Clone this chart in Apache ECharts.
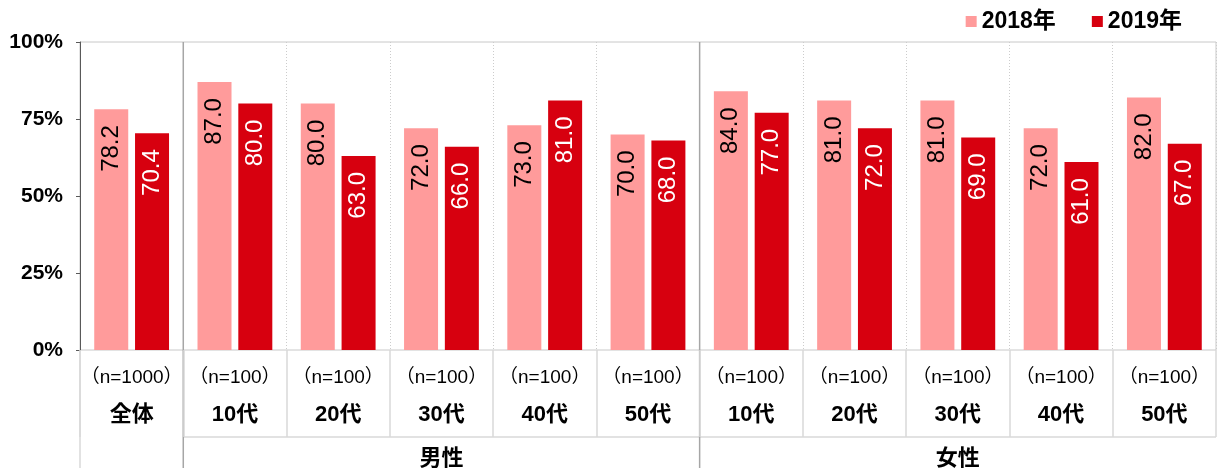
<!DOCTYPE html>
<html lang="ja">
<head>
    <meta charset="utf-8"/>
    <title></title>
    <script src="https://cdn.jsdelivr.net/npm/echarts@6/dist/echarts.min.js"></script>
</head>
<body style="margin:0;background:#fff">
<div id="echarts" style="width:1219px;height:468px;"></div>
<script type="text/javascript">
    // データ
    var categories = ['全体', '10代', '20代', '30代', '40代', '50代', '10代', '20代', '30代', '40代', '50代'];
    var sampleSizes = ['（n=1000）', '（n=100）', '（n=100）', '（n=100）', '（n=100）', '（n=100）',
        '（n=100）', '（n=100）', '（n=100）', '（n=100）', '（n=100）'];
    var values2018 = [78.2, 87.0, 80.0, 72.0, 73.0, 70.0, 84.0, 81.0, 81.0, 72.0, 82.0];
    var values2019 = [70.4, 80.0, 63.0, 66.0, 81.0, 68.0, 77.0, 72.0, 69.0, 61.0, 67.0];
    var groupNames = ['男性', '女性'];
    var groupFrom = [1, 6];
    var groupTo = [6, 11];

    var font = '"Liberation Sans", "Noto Sans CJK JP", sans-serif';
    var myChart = echarts.init(document.getElementById('echarts'));

    var barLabel = function (color) {
        return {
            show: true,
            position: 'insideTop',
            rotate: 90,
            align: 'right',
            verticalAlign: 'middle',
            distance: 16,
            color: color,
            fontSize: 24,
            fontFamily: font,
            formatter: function (p) { return p.value.toFixed(1); }
        };
    };

    var option = {
        animation: false,
        textStyle: {fontFamily: font},
        //凡例
        legend: {
            right: 32,
            top: 5,
            itemWidth: 11,
            itemHeight: 11,
            itemGap: 36,
            icon: 'rect',
            textStyle: {fontSize: 23, fontWeight: 'bold', color: '#000', fontFamily: font},
            data: ['2018年', '2019年']
        },
        grid: {
            left: 80, right: 3, top: 42, bottom: 118,
            show: true, borderColor: '#c8c8c8', borderWidth: 1
        },
        xAxis: {
            type: 'category',
            data: categories,
            axisLine: {show: false},
            axisTick: {show: true, interval: 0, length: 87, lineStyle: {color: '#d9d9d9', width: 1.5}},
            splitLine: {show: true, interval: 0, lineStyle: {color: '#cccccc', type: [1, 2]}},
            axisLabel: {
                interval: 0,
                margin: 9,
                formatter: function (v, i) {
                    return '{a|' + sampleSizes[i] + '}\n{b|' + v + '}';
                },
                rich: {
                    a: {fontSize: 19, lineHeight: 37, color: '#000', fontFamily: font},
                    b: {fontSize: 22, lineHeight: 37, fontWeight: 'bold', color: '#000', fontFamily: font}
                }
            }
        },
        yAxis: {
            type: 'value',
            min: 0, max: 100, interval: 25,
            axisLine: {show: true, lineStyle: {color: '#595959'}},
            axisTick: {show: true, length: 4, lineStyle: {color: '#595959'}},
            splitLine: {show: false},
            axisLabel: {margin: 17, fontSize: 21, fontWeight: 'bold', color: '#000', formatter: '{value}%'}
        },
        series: [{
            name: '2018年',
            type: 'bar',
            barWidth: 34,
            barGap: '20%',
            itemStyle: {color: '#ff9b9b'},
            label: barLabel('#000'),
            data: values2018
        }, {
            name: '2019年',
            type: 'bar',
            barWidth: 34,
            itemStyle: {color: '#d7000f'},
            label: barLabel('#fff'),
            data: values2019
        }]
    };
    myChart.setOption(option);

    // 表の罫線とグループ名
    var c0 = myChart.convertToPixel({xAxisIndex: 0}, 0);
    var c1 = myChart.convertToPixel({xAxisIndex: 0}, 1);
    var w = c1 - c0;
    var edge = function (i) { return c0 - w / 2 + i * w; };
    var yTop = myChart.convertToPixel({yAxisIndex: 0}, 100);
    var yBot = myChart.convertToPixel({yAxisIndex: 0}, 0);
    var H = 468;
    var g = [];
    g.push({type: 'line', shape: {x1: edge(0), y1: yBot, x2: edge(0), y2: H}, style: {stroke: '#d9d9d9', lineWidth: 1.5}});
    g.push({type: 'line', shape: {x1: edge(1), y1: yBot + 87, x2: edge(11), y2: yBot + 87}, style: {stroke: '#d9d9d9', lineWidth: 1.5}});
    for (var k = 0; k < groupNames.length; k++) {
        g.push({type: 'line', shape: {x1: edge(groupFrom[k]), y1: yTop, x2: edge(groupFrom[k]), y2: H}, style: {stroke: '#a6a6a6', lineWidth: 1.5}});
        g.push({
            type: 'text',
            x: (edge(groupFrom[k]) + edge(groupTo[k])) / 2,
            y: yBot + 109,
            style: {text: groupNames[k], font: 'bold 22px ' + font, fill: '#000', align: 'center', verticalAlign: 'middle'}
        });
    }
    myChart.setOption({graphic: g});
</script>
</body>
</html>
